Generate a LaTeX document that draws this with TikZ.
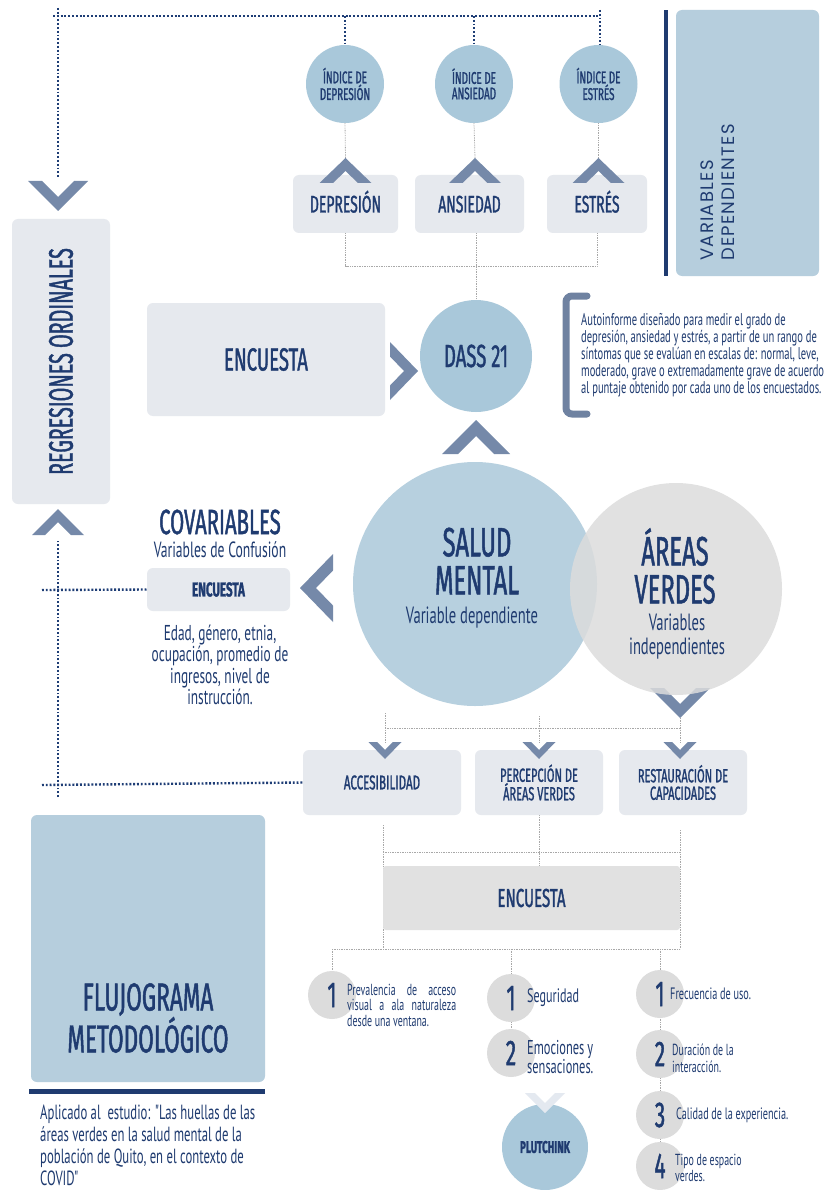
\documentclass[tikz,border=0pt]{standalone}
\usepackage{fontspec}
\newfontfamily\cond[FakeStretch=0.58, FakeBold=1.2]{Fira Sans}
\newfontfamily\hand[FakeStretch=0.62]{PT Sans}
\newfontfamily\geo[LetterSpace=7]{Poppins}
\newcommand\fsz[2]{\fontsize{#1}{#2}\selectfont}
\definecolor{navyc}{HTML}{1F3B70}
\definecolor{boxc}{HTML}{E6E9EE}
\definecolor{bluec}{HTML}{A9C8DA}
\definecolor{saludc}{HTML}{B7D0DF}
\definecolor{panelc}{HTML}{B6CEDD}
\definecolor{grayc}{HTML}{DCDCDC}
\definecolor{encgc}{HTML}{E1E1E1}
\definecolor{chevc}{HTML}{7589A9}
\definecolor{faintc}{HTML}{E4E9F0}
\definecolor{dotgc}{HTML}{A8A8A8}
\definecolor{ndotc}{HTML}{1E3D75}
\pgfdeclarelayer{back}
\pgfdeclarelayer{lines}
\pgfsetlayers{back,lines,main}
\tikzset{
  box/.style={fill=boxc, rounded corners=6pt, inner sep=0pt, text=navyc},
  ttl/.style={text=navyc, inner sep=0pt, align=center},
  icirc/.style={circle, fill=bluec, minimum size=78pt, inner sep=0pt, text=navyc, align=center, font=\cond\fsz{17}{15.5}},
  numc/.style={circle, fill=grayc, minimum size=48pt, inner sep=0pt},
  numt/.style={text=navyc, inner sep=0pt, font=\cond\fsz{36}{36}},
  ndot/.style={ndotc, line width=2.4pt, dash pattern=on 1.9pt off 1.9pt},
  gdot/.style={dotgc, line width=0.8pt, dash pattern=on 0.8pt off 0.9pt},
  bracketc/.style={chevc!95!black, line width=7pt, rounded corners=6pt, line cap=round},
  pics/chevd/.style args={#1/#2/#3/#4}{code={\path[fill=#4] (-#1,0) -- (0,#2) -- (#1,0) -- ({(#2-#3)*#1/#2},0) -- (0,{#2-#3}) -- ({-(#2-#3)*#1/#2},0) -- cycle;}},
  pics/chevu/.style args={#1/#2/#3/#4}{code={\path[fill=#4] (-#1,0) -- (0,-#2) -- (#1,0) -- ({(#2-#3)*#1/#2},0) -- (0,{-(#2-#3)}) -- ({-(#2-#3)*#1/#2},0) -- cycle;}},
  pics/chevr/.style args={#1/#2/#3/#4}{code={\path[fill=#4] (0,-#1) -- (#2,0) -- (0,#1) -- (0,{(#2-#3)*#1/#2}) -- ({#2-#3},0) -- (0,{-(#2-#3)*#1/#2}) -- cycle;}},
  pics/chevl/.style args={#1/#2/#3/#4}{code={\path[fill=#4] (0,-#1) -- (-#2,0) -- (0,#1) -- (0,{(#2-#3)*#1/#2}) -- ({-(#2-#3)},0) -- (0,{-(#2-#3)*#1/#2}) -- cycle;}},
}
\begin{document}
\begin{tikzpicture}[x=1pt,y=-1pt]
\begin{pgfonlayer}{back}
\fill[white] (0,0) rectangle (824,1190);
\end{pgfonlayer}
\useasboundingbox (0,0) rectangle (824,1190);

% ---------- top: index circles and boxes ----------
\node[icirc] (idep) at (345,84) {ÍNDICE DE\\DEPRESIÓN};
\node[icirc] (ians) at (474,84) {ÍNDICE DE\\ANSIEDAD};
\node[icirc] (iest) at (598.5,84) {ÍNDICE DE\\ESTRÉS};

\node[box, minimum width=105pt, minimum height=58pt, font=\cond\fsz{24}{24}, text height=17pt, text depth=0pt] (dep) at (345.5,204) {DEPRESIÓN};
\node[box, minimum width=109pt, minimum height=58pt, font=\cond\fsz{24}{24}, text height=17pt, text depth=0pt] (ans) at (469.5,204) {ANSIEDAD};
\node[box, minimum width=100pt, minimum height=58pt, font=\cond\fsz{24}{24}, text height=17pt, text depth=0pt] (est) at (597,204) {ESTRÉS};

\pic at (345.5,183) {chevu=26/25/13/chevc};
\pic at (475,183) {chevu=26/25/13/chevc};
\pic at (598.5,183) {chevu=26/25/13/chevc};

% ---------- right panel ----------
\fill[navyc] (664,10) rectangle (668,276);
\node[box, fill=panelc, minimum width=143pt, minimum height=266pt] (vdep) at (747.5,143) {};
\node[ttl, align=left, rotate=90, anchor=north west, font=\geo\fsz{18}{21}] (vdept) at (701,261) {VARIABLES\\DEPENDIENTES};

% ---------- regressions ----------
\node[box, rotate=90, minimum width=285pt, minimum height=98pt, font=\cond\fsz{34}{34}] (reg) at (61,361.5) {REGRESIONES ORDINALES};
\pic at (58,181) {chevd=30/30/14/chevc};
\pic at (58,535) {chevu=26/26/13/chevc};

% ---------- encuesta + dass ----------
\node[box, minimum width=238pt, minimum height=113pt, font=\cond\fsz{32}{32}] (enc) at (266,359.5) {ENCUESTA};
\node[circle, fill=bluec, minimum size=112pt, inner sep=0pt, text=navyc, font=\cond\fsz{32}{32}] (dass) at (476,356) {DASS 21};
\pic at (390,371) {chevr=29/28/14/chevc};
\pic at (476,454) {chevu=34/34/16/chevc};

\draw[bracketc] (587,296) -- (566,296) -- (566,414) -- (587,414);
\node[ttl, align=left, anchor=west, font=\hand\fsz{17}{17}] (dtext) at (581,355) {Autoinforme diseñado para medir el grado de\\depresión, ansiedad y estrés, a partir de un rango de\\síntomas que se evalúan en escalas de: normal, leve,\\moderado, grave o extremadamente grave de acuerdo\\al puntaje obtenido por cada uno de los encuestados.};

% ---------- central circles ----------
\node[circle, fill=saludc, minimum size=244pt, inner sep=0pt] (salud) at (475,584) {};
\pic at (680,688) {chevd=30/30/14/chevc};
\node[circle, fill=grayc, fill opacity=0.85, minimum size=212pt, inner sep=0pt] (areas) at (676,589) {};
\node[ttl, font=\cond\fsz{41}{38}] (saludt) at (477,561) {SALUD\\MENTAL};
\node[ttl, font=\hand\fsz{23.5}{23}] (saludv) at (472,618) {Variable dependiente};
\node[ttl, font=\cond\fsz{41}{38}] (areast) at (675,566) {ÁREAS\\VERDES};
\node[ttl, font=\hand\fsz{23.5}{24}] (areasv) at (677,637) {Variables\\independientes};

% ---------- covariables ----------
\node[ttl, font=\cond\fsz{35}{35}] (cov) at (220,522) {COVARIABLES};
\node[ttl, font=\hand\fsz{22}{22}] (covs) at (220,550) {Variables de Confusión};
\node[box, minimum width=143pt, minimum height=43pt, font=\cond\bfseries\fsz{20}{20}] (cenc) at (218.5,589.5) {ENCUESTA};
\pic at (333,588) {chevl=34/33/16/chevc};
\node[ttl, font=\hand\fsz{21.5}{21.5}] (covd) at (220,665) {Edad, género, etnia,\\ocupación, promedio de\\ingresos, nivel de\\instrucción.};

% ---------- three boxes ----------
\node[box, minimum width=158pt, minimum height=65pt, font=\cond\fsz{20}{20}] (acc) at (382,782.5) {ACCESIBILIDAD};
\node[box, minimum width=128pt, minimum height=65pt, font=\cond\fsz{19}{17.5}, align=center] (perc) at (539,782.5) {PERCEPCIÓN DE\\ÁREAS VERDES};
\node[box, minimum width=128pt, minimum height=65pt, font=\cond\fsz{19}{17.5}, align=center] (rest) at (683,782.5) {RESTAURACIÓN DE\\CAPACIDADES};
\pic at (385,742) {chevd=16.5/17/9/chevc};
\pic at (539,742) {chevd=16.5/17/9/chevc};
\pic at (680,742) {chevd=16.5/17/9/chevc};

\node[box, fill=encgc, rounded corners=3pt, minimum width=297pt, minimum height=64pt, font=\cond\fsz{26}{26}] (benc) at (531.5,898) {ENCUESTA};

% ---------- lists ----------
\node[numc, label={[numt]center:1}] (a1) at (332,995) {};
\node[ttl, align=left, anchor=west, font=\hand\fsz{16}{15.5}] (a1t) at (347,1005) {\makebox[109pt][s]{Prevalencia de acceso}\\\makebox[109pt][s]{visual a ala naturaleza}\\desde una ventana.};

\node[numc, label={[numt]center:1}] (b1) at (511,998) {};
\node[numc, label={[numt]center:2}] (b2) at (511,1053) {};
\node[ttl, align=left, anchor=west, font=\hand\fsz{19.5}{19.5}] (b1t) at (527,998) {Seguridad};
\node[ttl, align=left, anchor=west, font=\hand\fsz{20}{19}] (b2t) at (527,1057.5) {\makebox[66pt][s]{Emociones y}\\sensaciones.};

\node[circle, fill=bluec, minimum size=86pt, inner sep=0pt, text=navyc, font=\cond\bfseries\fsz{17}{17}] (plut) at (545,1147) {PLUTCHINK};
\pic at (545,1093) {chevd=20/20/10/faintc};

\node[numc, label={[numt]center:1}] (c1) at (660,994) {};
\node[numc, label={[numt]center:2}] (c2) at (660,1054) {};
\node[numc, label={[numt]center:3}] (c3) at (660,1115) {};
\node[numc, label={[numt]center:4}] (c4) at (660,1166) {};
\node[ttl, align=left, anchor=west, font=\hand\fsz{16.5}{16.5}] (c1t) at (670,994) {Frecuencia de uso.};
\node[ttl, align=left, anchor=west, font=\hand\fsz{16}{17}] (c2t) at (672,1058) {Duración de la\\interacción.};
\node[ttl, align=left, anchor=west, font=\hand\fsz{16.5}{16.5}] (c3t) at (676,1115) {Calidad de la experiencia.};
\node[ttl, align=left, anchor=west, font=\hand\fsz{16}{16}] (c4t) at (675,1168) {Tipo de espacio\\verdes.};

% ---------- flujograma ----------
\node[box, fill=panelc, minimum width=234pt, minimum height=267pt] (flu) at (148,948.5) {};
\node[ttl, font=\cond\fsz{39}{33}] (flut) at (148,1018) {FLUJOGRAMA\\METODOLÓGICO};
\fill[navyc] (29,1089) rectangle (265,1093.5);
\node[ttl, align=left, anchor=west, font=\hand\fsz{20.5}{22}] (capt) at (40,1145) {Aplicado al~ estudio: "Las huellas de las\\áreas verdes en la salud mental de la\\población de Quito, en el contexto de\\COVID"};

% ---------- connectors ----------
\begin{pgfonlayer}{lines}
\coordinate (tl) at (58,16);
\coordinate (tr) at (600,16);
\draw[ndot] (58,8) -- (58,178);
\draw[ndot] (53,16) -- (tr);
\draw[ndot] (idep.north |- tl) -- (idep.north);
\draw[ndot] (ians.north |- tl) -- (ians.north);
\draw[ndot] (600,10) -- (600,45);
\draw[gdot] (idep.south) -- (345.5,158);
\draw[gdot] (ians.south) -- (475,158);
\draw[gdot] (iest.south) -- (598.5,158);
\coordinate (jtop) at (0,266);
\draw[gdot] (dep.south) -- (dep.south |- jtop) -- (est.south |- jtop) -- (est.south);
\draw[gdot] (dass.north |- dep.south) -- (dass.north);
% covariables / regressions
\draw[ndot] (58,797) -- (58,540);
\draw[ndot] (42,590) -- (cenc.west);
\draw[ndot] (42,785) -- (acc.west);
% green areas to boxes
\draw[gdot] (385,713) -- (385,742);
\draw[gdot] (539,716) -- (539,742);
\draw[gdot] (680,718) -- (680,742);
\draw[gdot] (385,728) -- (680,728);
% boxes to encuesta
\draw[gdot] (383,825) -- (383,949);
\draw[gdot] (perc.south) -- (perc.south |- benc.north);
\draw[gdot] (680,830) -- (680,949);
\draw[gdot] (383,852) -- (680,852);
% encuesta to lists
\coordinate (jl) at (0,949);
\draw[gdot] (a1.north |- jl) -- (680,949);
\draw[gdot] (a1.north |- jl) -- (a1.north);
\draw[gdot] (b1.north |- jl) -- (b2.north);
\draw[gdot] (c1.north |- jl) -- (c4.north);
\end{pgfonlayer}
\end{tikzpicture}
\end{document}
